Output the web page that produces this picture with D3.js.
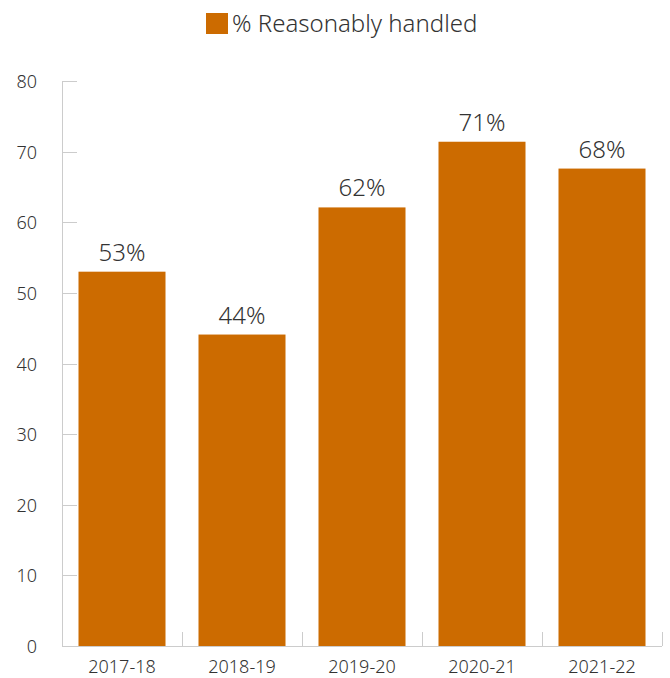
<!DOCTYPE html>
<html>
<head>
<meta charset="utf-8">
<script src="https://cdn.jsdelivr.net/npm/d3@7"></script>
<style>
  body { margin: 0; background: #fff; }
  svg text { font-family: "Source Sans Pro", "Noto Sans", Roboto, sans-serif; font-weight: 300; fill: #333; }
</style>
</head>
<body>
<svg id="chart" width="670" height="678"></svg>
<script>
var years = ["2017-18", "2018-19", "2019-20", "2020-21", "2021-22"];
var handled = [53.0, 44.1, 62.1, 71.4, 67.6];
var yTicks = [0, 10, 20, 30, 40, 50, 60, 70, 80];
var seriesName = "% Reasonably handled";
var barColor = "#cc6b00";
var axisColor = "#cccccc";

var margin = { top: 81, bottom: 32, left: 62, right: 8 };
var svg = d3.select("#chart");
var width = +svg.attr("width");
var height = +svg.attr("height");
var innerBottom = height - margin.bottom;

var x = d3.scaleBand()
  .domain(years)
  .range([margin.left, width - margin.right])
  .paddingInner(0.275)
  .paddingOuter(0.1375);

var y = d3.scaleLinear()
  .domain([0, 80])
  .range([innerBottom, margin.top]);

// legend
var legend = svg.append("g");
legend.append("rect")
  .attr("x", 206).attr("y", 13)
  .attr("width", 22).attr("height", 21)
  .attr("fill", barColor);
legend.append("text")
  .attr("x", 232).attr("y", 32)
  .style("font-size", "24px")
  .text(seriesName);

// y axis line + inward ticks
svg.append("line")
  .attr("x1", margin.left + 0.5).attr("x2", margin.left + 0.5)
  .attr("y1", y(80)).attr("y2", innerBottom)
  .attr("stroke", axisColor);

svg.append("g")
  .selectAll("line")
  .data(yTicks)
  .enter()
  .append("line")
  .attr("x1", margin.left).attr("x2", margin.left + 15)
  .attr("y1", d => Math.round(y(d)) + 0.5).attr("y2", d => Math.round(y(d)) + 0.5)
  .attr("stroke", axisColor);

svg.append("g")
  .selectAll("text")
  .data(yTicks)
  .enter()
  .append("text")
  .attr("x", 37)
  .attr("y", d => y(d) + 7)
  .attr("text-anchor", "end")
  .style("font-size", "18px")
  .text(d => d);

// x axis line + category separators
var step = x.step();
var bounds = years.map(d => x(d) - (step - x.bandwidth()) / 2);
bounds.push(width - margin.right);

svg.append("line")
  .attr("x1", margin.left).attr("x2", width - margin.right)
  .attr("y1", innerBottom + 0.5).attr("y2", innerBottom + 0.5)
  .attr("stroke", axisColor);

svg.append("g")
  .selectAll("line")
  .data(bounds)
  .enter()
  .append("line")
  .attr("x1", d => Math.round(d) + 0.5).attr("x2", d => Math.round(d) + 0.5)
  .attr("y1", innerBottom - 14).attr("y2", innerBottom)
  .attr("stroke", axisColor);

svg.append("g")
  .selectAll("text")
  .data(years)
  .enter()
  .append("text")
  .attr("x", d => x(d) + x.bandwidth() / 2)
  .attr("y", innerBottom + 27)
  .attr("text-anchor", "middle")
  .style("font-size", "18px")
  .text(d => d);

// bars
svg.append("g")
  .selectAll("rect")
  .data(handled)
  .enter()
  .append("rect")
  .attr("x", (d, i) => x(years[i]))
  .attr("y", d => y(d))
  .attr("width", x.bandwidth())
  .attr("height", d => innerBottom - y(d))
  .attr("fill", barColor);

// value labels
svg.append("g")
  .selectAll("text")
  .data(handled)
  .enter()
  .append("text")
  .attr("x", (d, i) => x(years[i]) + x.bandwidth() / 2)
  .attr("y", d => y(d) - 11)
  .attr("text-anchor", "middle")
  .style("font-size", "24px")
  .text(d => Math.round(d) + "%");
</script>
</body>
</html>
